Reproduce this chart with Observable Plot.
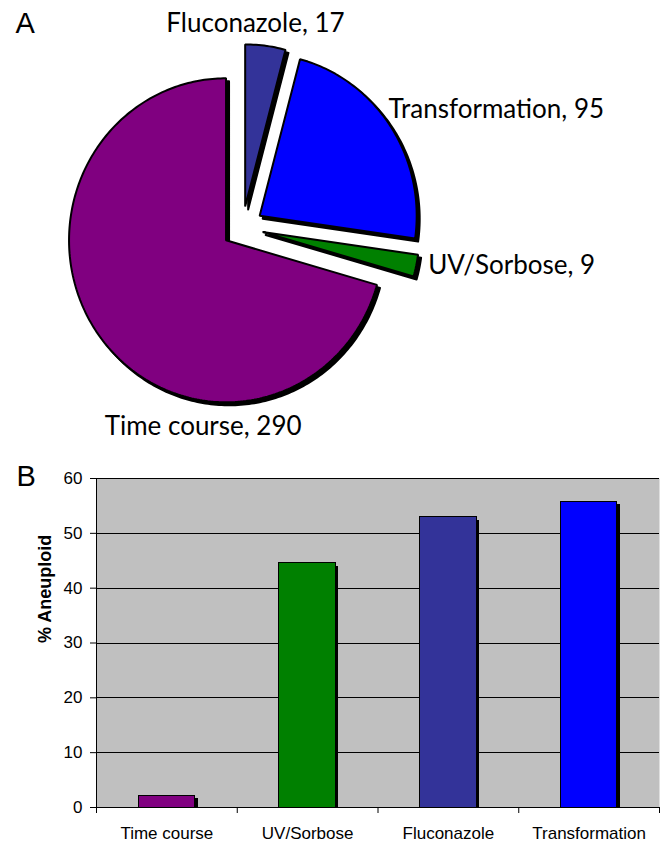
<!DOCTYPE html>
<html><head><meta charset="utf-8">
<script src="https://cdn.jsdelivr.net/npm/d3@7"></script>
<script src="https://cdn.jsdelivr.net/npm/@observablehq/plot@0.6"></script>
<style>
body{margin:0;background:#fff;}
#chart{width:660px;}
#chart svg{display:block;}
</style>
</head><body><div id="chart"></div>
<script>
// ---- data ----
const categories = ["Time course", "UV/Sorbose", "Fluconazole", "Transformation"];
const pieCounts = [290, 9, 17, 95];
const pctAneuploid = [2.1, 44.5, 52.9, 55.8];
const pieOrder = ["Fluconazole", "Transformation", "UV/Sorbose", "Time course"]; // clockwise from 12 o'clock
const yTicks = [0, 10, 20, 30, 40, 50, 60];

// ---- style ----
const colors = {"Time course": "#800080", "UV/Sorbose": "#008000", "Fluconazole": "#333399", "Transformation": "#0000ff"};
const W = 660, pieH = 450, barH = 393;
const pieStyle = {cx: 242, cy: 227, rx: 157, ry: 162, explode: 21 / 160, shadow: 3};
const labelStyle = {
  "Fluconazole":    {anchor: "middle", dx: -10, dy: -22},
  "Transformation": {anchor: "start",  dx: -2,  dy: -17},
  "UV/Sorbose":     {anchor: "start",  dx: 12,  dy: 0},
  "Time course":    {anchor: "start",  dx: 4,   dy: 89}
};
const pieFont = "Lato, 'Open Sans', sans-serif";
const barFont = "'Liberation Sans', Arial, sans-serif";
const colorScale = {domain: categories, range: categories.map(c => colors[c])};

// ---- pie geometry (unit ellipse, y up) ----
const total = d3.sum(pieCounts);
let acc = 0;
const slices = pieOrder.map(name => {
  const v = pieCounts[categories.indexOf(name)];
  const a0 = acc / total * 2 * Math.PI; acc += v;
  const a1 = acc / total * 2 * Math.PI;
  return {name, v, a0, a1, mid: (a0 + a1) / 2};
});
const e = pieStyle.explode;
const piePts = [];
for (const s of slices) {
  const ox = e * Math.sin(s.mid), oy = e * Math.cos(s.mid);
  piePts.push({name: s.name, x: ox, y: oy});
  const n = Math.max(2, Math.ceil((s.a1 - s.a0) / (Math.PI / 180)));
  for (let k = 0; k <= n; k++) {
    const a = s.a0 + (s.a1 - s.a0) * k / n;
    piePts.push({name: s.name, x: ox + Math.sin(a), y: oy + Math.cos(a)});
  }
}
const labelMarks = slices.map(s => {
  const ls = labelStyle[s.name];
  return Plot.text([s], {
    x: d => (1 + e) * Math.sin(d.mid), y: d => (1 + e) * Math.cos(d.mid),
    text: d => `${d.name}, ${d.v}`, textAnchor: ls.anchor, lineAnchor: "middle",
    dx: ls.dx, dy: ls.dy, fontSize: 26, fontFamily: pieFont, fill: "black"
  });
});

const pie = Plot.plot({
  width: W, height: pieH, margin: 0,
  style: {background: "white", overflow: "visible"},
  x: {domain: [-pieStyle.cx / pieStyle.rx, (W - pieStyle.cx) / pieStyle.rx], axis: null},
  y: {domain: [(pieStyle.cy - pieH) / pieStyle.ry, pieStyle.cy / pieStyle.ry], axis: null},
  color: colorScale,
  marks: [
    Plot.line(piePts, {x: "x", y: "y", z: "name", fill: "black", stroke: "black", strokeWidth: 2,
      curve: "linear-closed", dx: pieStyle.shadow, dy: pieStyle.shadow}),
    Plot.line(piePts, {x: "x", y: "y", z: "name", fill: "name", stroke: "black", strokeWidth: 2,
      strokeLinejoin: "miter", curve: "linear-closed"}),
    ...labelMarks,
    Plot.text(["A"], {frameAnchor: "top-left", dx: 15, dy: 12, lineAnchor: "top", textAnchor: "start",
      fontSize: 29, fontFamily: barFont, fill: "black"})
  ]
});

// ---- bar chart ----
const barFrac = 0.4;
const barData = categories.map((c, i) => ({cat: c, i, v: pctAneuploid[i]}));
const bx1 = d => d.i + (1 - barFrac) / 2, bx2 = d => d.i + (1 + barFrac) / 2;
const bar = Plot.plot({
  width: W, height: barH, marginTop: 28, marginBottom: 36, marginLeft: 96, marginRight: 1,
  style: {fontFamily: barFont, fontSize: "17px", color: "black", background: "white", overflow: "visible"},
  x: {domain: [0, categories.length], axis: null},
  y: {domain: [0, 60], axis: null},
  color: colorScale,
  marks: [
    Plot.frame({fill: "#c0c0c0", stroke: "none"}),
    Plot.ruleY(yTicks, {stroke: "black", strokeWidth: 1, shapeRendering: "crispEdges"}),
    Plot.rectY(barData, {x1: bx1, x2: bx2, y1: 0, y2: "v", fill: "black", dx: 3, insetTop: 3, shapeRendering: "crispEdges"}),
    Plot.rectY(barData, {x1: bx1, x2: bx2, y1: 0, y2: "v", fill: "cat", stroke: "black", strokeWidth: 1, shapeRendering: "crispEdges"}),
    Plot.ruleX([0], {stroke: "black", strokeWidth: 1, shapeRendering: "crispEdges"}),
    Plot.axisY({ticks: yTicks, tickSize: 6, tickPadding: 8, fontSize: 17, label: null}),
    Plot.axisX({ticks: d3.range(categories.length + 1), tickSize: 6, tickFormat: () => "", label: null}),
    Plot.text(barData, {x: d => d.i + 0.5, y: 0, text: "cat", dy: 26, fontSize: 17, lineAnchor: "middle", fill: "black"}),
    Plot.text(["% Aneuploid"], {frameAnchor: "left", rotate: -90, dx: -51, fontWeight: "bold", fontSize: 18, fill: "black"}),
    Plot.text(["B"], {frameAnchor: "top-left", dx: -80, dy: -13, lineAnchor: "top", textAnchor: "start",
      fontSize: 29, fill: "black"})
  ]
});

const root = document.getElementById("chart");
root.append(pie, bar);
</script>
</body></html>
